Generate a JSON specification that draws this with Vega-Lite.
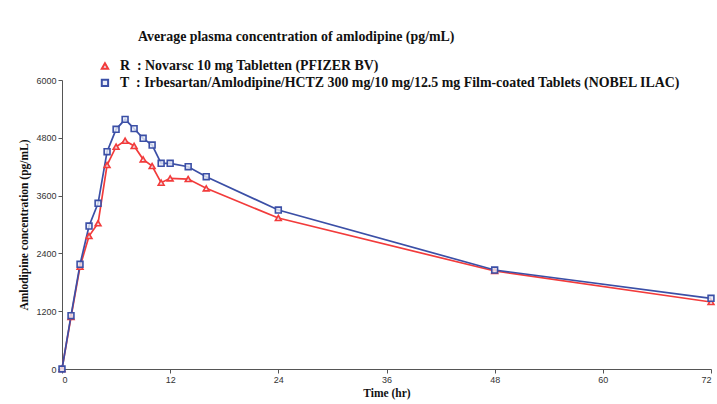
{
  "$schema": "https://vega.github.io/schema/vega-lite/v6.json",
  "width": 649,
  "height": 289,
  "autosize": {"type": "none"},
  "padding": {"left": 62, "top": 80, "right": 6, "bottom": 35},
  "background": "white",
  "title": {
    "text": "Average plasma concentration of amlodipine (pg/mL)",
    "anchor": "start",
    "dx": 119,
    "offset": 15,
    "font": "Liberation Serif",
    "fontSize": 13.9,
    "fontWeight": "bold",
    "color": "#111111"
  },
  "data": {
    "values": [
      {"t": 0, "conc": 0, "f": "R"},
      {"t": 1, "conc": 1080, "f": "R"},
      {"t": 2, "conc": 2124, "f": "R"},
      {"t": 3, "conc": 2761, "f": "R"},
      {"t": 4, "conc": 3025, "f": "R"},
      {"t": 5, "conc": 4235, "f": "R"},
      {"t": 6, "conc": 4615, "f": "R"},
      {"t": 7, "conc": 4740, "f": "R"},
      {"t": 8, "conc": 4630, "f": "R"},
      {"t": 9, "conc": 4353, "f": "R"},
      {"t": 10, "conc": 4214, "f": "R"},
      {"t": 11, "conc": 3868, "f": "R"},
      {"t": 12, "conc": 3959, "f": "R"},
      {"t": 14, "conc": 3944, "f": "R"},
      {"t": 16, "conc": 3751, "f": "R"},
      {"t": 24, "conc": 3135, "f": "R"},
      {"t": 48, "conc": 2034, "f": "R"},
      {"t": 72, "conc": 1391, "f": "R"},
      {"t": 0, "conc": 0, "f": "T"},
      {"t": 1, "conc": 1107, "f": "T"},
      {"t": 2, "conc": 2173, "f": "T"},
      {"t": 3, "conc": 2968, "f": "T"},
      {"t": 4, "conc": 3440, "f": "T"},
      {"t": 5, "conc": 4511, "f": "T"},
      {"t": 6, "conc": 4976, "f": "T"},
      {"t": 7, "conc": 5183, "f": "T"},
      {"t": 8, "conc": 4990, "f": "T"},
      {"t": 9, "conc": 4789, "f": "T"},
      {"t": 10, "conc": 4650, "f": "T"},
      {"t": 11, "conc": 4270, "f": "T"},
      {"t": 12, "conc": 4270, "f": "T"},
      {"t": 14, "conc": 4200, "f": "T"},
      {"t": 16, "conc": 3992, "f": "T"},
      {"t": 24, "conc": 3300, "f": "T"},
      {"t": 48, "conc": 2055, "f": "T"},
      {"t": 72, "conc": 1468, "f": "T"}
    ]
  },
  "encoding": {
    "x": {
      "field": "t", "type": "quantitative",
      "scale": {"domain": [0, 72], "nice": false},
      "axis": {"values": [0, 12, 24, 36, 48, 60, 72], "title": "Time (hr)"}
    },
    "y": {
      "field": "conc", "type": "quantitative",
      "scale": {"domain": [0, 6000], "nice": false},
      "axis": {"values": [0, 1200, 2400, 3600, 4800, 6000], "format": "d", "title": "Amlodipine concentration (pg/mL)"}
    },
    "color": {
      "field": "f", "type": "nominal",
      "scale": {"domain": ["R", "T"], "range": ["#f23b3b", "#3b4fa6"]},
      "legend": {
        "labelExpr": "datum.label == 'R' ? 'R\u00a0\u00a0: Novarsc 10 mg Tabletten (PFIZER BV)' : 'T\u00a0\u00a0: Irbesartan/Amlodipine/HCTZ 300 mg/10 mg/12.5 mg Film-coated Tablets (NOBEL ILAC)'"
      }
    }
  },
  "layer": [
    {
      "mark": {"type": "line", "strokeWidth": 1.7}
    },
    {
      "mark": {"type": "point", "filled": false, "size": 34, "strokeWidth": 1.6, "opacity": 1, "fill": "#e9ecf8", "fillOpacity": 0.8},
      "encoding": {
        "shape": {
          "field": "f", "type": "nominal",
          "scale": {"domain": ["R", "T"], "range": ["triangle-up", "square"]},
          "legend": {
            "labelExpr": "datum.label == 'R' ? 'R\u00a0\u00a0: Novarsc 10 mg Tabletten (PFIZER BV)' : 'T\u00a0\u00a0: Irbesartan/Amlodipine/HCTZ 300 mg/10 mg/12.5 mg Film-coated Tablets (NOBEL ILAC)'"
          }
        }
      }
    }
  ],
  "config": {
    "view": {"stroke": null},
    "axis": {
      "grid": false,
      "domainColor": "#555555",
      "tickColor": "#555555",
      "tickSize": 4,
      "labelColor": "#333333",
      "labelFont": "Liberation Sans",
      "labelFontSize": 9,
      "labelPadding": 2,
      "titleFont": "Liberation Serif",
      "titleFontSize": 11.5,
      "titleFontWeight": "bold",
      "titleColor": "#111111"
    },
    "axisY": {"titlePadding": 6},
    "axisX": {"titlePadding": 3},
    "legend": {
      "orient": "none",
      "legendX": 36,
      "legendY": -21,
      "title": null,
      "labelFont": "Liberation Serif",
      "labelFontSize": 13.9,
      "labelFontWeight": "bold",
      "labelColor": "#111111",
      "labelLimit": 700,
      "labelOffset": 8,
      "rowPadding": 2,
      "symbolSize": 40,
      "symbolStrokeWidth": 2
    }
  }
}
